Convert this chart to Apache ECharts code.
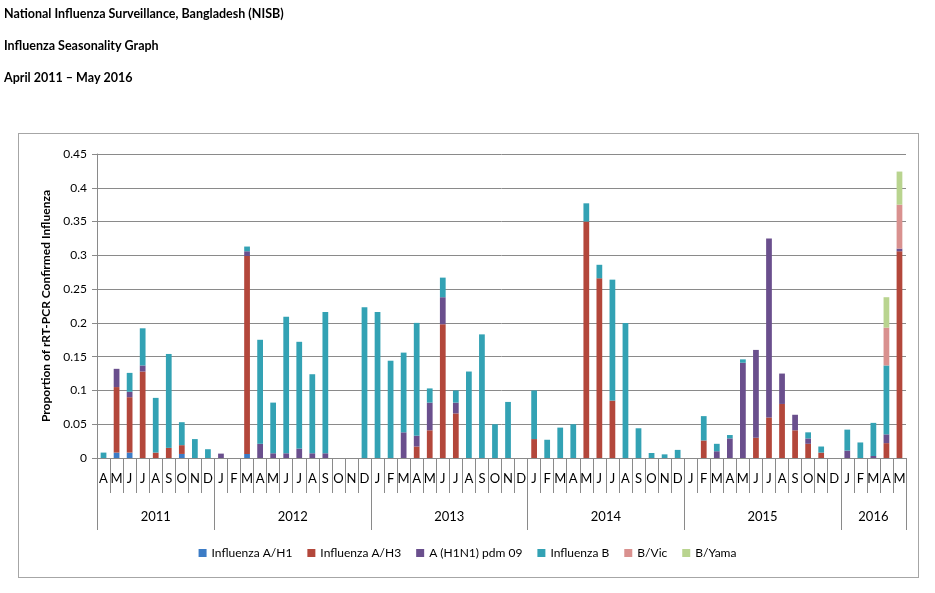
<!DOCTYPE html>
<html>
<head>
<meta charset="utf-8">
<script src="https://cdn.jsdelivr.net/npm/echarts@6/dist/echarts.min.js"></script>
<style>
  html, body { margin: 0; padding: 0; background: #fff; }
  #frame { position: absolute; left: 18px; top: 133px; width: 899px; height: 443px; border: 1px solid #a6a6a6; }
  #main { position: absolute; left: 0; top: 0; width: 935px; height: 593px; }
</style>
</head>
<body>
<div id="frame"></div>
<div id="main"></div>
<script>
// month letters per year, Apr 2011 - May 2016
const yearLabels = ['2011', '2012', '2013', '2014', '2015', '2016'];
const yearMonths = [
  ['A', 'M', 'J', 'J', 'A', 'S', 'O', 'N', 'D'],
  ['J', 'F', 'M', 'A', 'M', 'J', 'J', 'A', 'S', 'O', 'N', 'D'],
  ['J', 'F', 'M', 'A', 'M', 'J', 'J', 'A', 'S', 'O', 'N', 'D'],
  ['J', 'F', 'M', 'A', 'M', 'J', 'J', 'A', 'S', 'O', 'N', 'D'],
  ['J', 'F', 'M', 'A', 'M', 'J', 'J', 'A', 'S', 'O', 'N', 'D'],
  ['J', 'F', 'M', 'A', 'M']
];

// proportions, one value per month
const fluAH1 = [
  0, 0.008, 0.008, 0, 0, 0, 0.006, 0, 0,
  0, 0, 0.006, 0, 0, 0, 0, 0, 0, 0, 0, 0,
  0, 0, 0, 0, 0, 0, 0, 0, 0, 0, 0, 0,
  0, 0, 0, 0, 0, 0, 0, 0, 0, 0, 0, 0,
  0, 0, 0, 0, 0, 0, 0, 0, 0, 0, 0, 0,
  0, 0, 0, 0, 0
];
const fluAH3 = [
  0, 0.097, 0.082, 0.128, 0.008, 0.015, 0.013, 0, 0,
  0, 0, 0.293, 0, 0, 0, 0, 0, 0, 0, 0, 0,
  0, 0, 0, 0.017, 0.041, 0.198, 0.066, 0, 0, 0, 0, 0,
  0.028, 0, 0, 0, 0.350, 0.266, 0.085, 0, 0, 0, 0, 0,
  0, 0.026, 0, 0, 0, 0.030, 0.060, 0.080, 0.041, 0.021, 0.008, 0,
  0, 0, 0, 0.022, 0.306
];
const pdm09 = [
  0, 0.027, 0.008, 0.009, 0, 0, 0, 0, 0,
  0.0065, 0, 0.007, 0.021, 0.007, 0.007, 0.014, 0.007, 0.007, 0, 0, 0,
  0, 0, 0.038, 0.016, 0.041, 0.040, 0.016, 0, 0, 0, 0, 0,
  0, 0, 0, 0, 0, 0, 0, 0, 0, 0, 0, 0,
  0, 0, 0.010, 0.029, 0.141, 0.130, 0.265, 0.045, 0.023, 0.008, 0, 0,
  0.011, 0, 0.003, 0.013, 0.004
];
const fluB = [
  0.008, 0, 0.028, 0.055, 0.081, 0.139, 0.034, 0.028, 0.013,
  0, 0, 0.007, 0.154, 0.075, 0.202, 0.158, 0.117, 0.209, 0, 0, 0.223,
  0.216, 0.144, 0.118, 0.167, 0.021, 0.029, 0.018, 0.128, 0.183, 0.050, 0.083, 0,
  0.072, 0.027, 0.045, 0.050, 0.027, 0.020, 0.179, 0.200, 0.044, 0.0074, 0.0054, 0.012,
  0, 0.036, 0.011, 0.005, 0.005, 0, 0, 0, 0, 0.009, 0.009, 0,
  0.031, 0.023, 0.049, 0.102, 0
];
const bVic = [
  0, 0, 0, 0, 0, 0, 0, 0, 0,
  0, 0, 0, 0, 0, 0, 0, 0, 0, 0, 0, 0,
  0, 0, 0, 0, 0, 0, 0, 0, 0, 0, 0, 0,
  0, 0, 0, 0, 0, 0, 0, 0, 0, 0, 0, 0,
  0, 0, 0, 0, 0, 0, 0, 0, 0, 0, 0, 0,
  0, 0, 0, 0.056, 0.065
];
const bYama = [
  0, 0, 0, 0, 0, 0, 0, 0, 0,
  0, 0, 0, 0, 0, 0, 0, 0, 0, 0, 0, 0,
  0, 0, 0, 0, 0, 0, 0, 0, 0, 0, 0, 0,
  0, 0, 0, 0, 0, 0, 0, 0, 0, 0, 0, 0,
  0, 0, 0, 0, 0, 0, 0, 0, 0, 0, 0, 0,
  0, 0, 0, 0.045, 0.049
];

const seriesNames = ['Influenza A/H1', 'Influenza A/H3', 'A (H1N1) pdm 09', 'Influenza B', 'B/Vic', 'B/Yama'];
const seriesData = [fluAH1, fluAH3, pdm09, fluB, bVic, bYama];
const colors = ['#3c7cc6', '#b3473b', '#6a4f8d', '#33a2b4', '#d9918f', '#b9d48f'];

// month categories and year boundaries
const months = [];
const yearStarts = [];
const yearMids = [];
yearMonths.forEach(function (list) {
  yearStarts.push(months.length);
  yearMids.push(months.length + list.length / 2);
  list.forEach(function (m) { months.push(m); });
});
yearStarts.push(months.length);

const font = 'Lato, "Open Sans", sans-serif';
const grey = '#8a8a8a';

const myChart = echarts.init(document.getElementById('main'), null, { renderer: 'canvas' });

const option = {
  backgroundColor: 'transparent',
  color: colors,
  animation: false,
  title: [
    { text: 'National Influenza Surveillance, Bangladesh (NISB)', left: 4, top: 7 },
    { text: 'Influenza Seasonality Graph', left: 4, top: 39 },
    { text: 'April 2011 \u2013 May 2016', left: 4, top: 71 }
  ].map(function (t) {
    t.padding = 0;
    t.textStyle = { fontFamily: font, fontSize: 12.5, fontWeight: 'bold', color: '#000' };
    return t;
  }),
  legend: {
    bottom: 29,
    left: 'center',
    itemWidth: 8,
    itemHeight: 8,
    itemGap: 15,
    icon: 'rect',
    textStyle: { fontFamily: font, fontSize: 12, color: '#000' },
    data: seriesNames
  },
  grid: { left: 97, right: 29, top: 154, bottom: 135, containLabel: false },
  xAxis: [
    {
      type: 'category',
      data: months,
      axisLine: { lineStyle: { color: grey } },
      axisTick: { show: true, length: 35, interval: 0, lineStyle: { color: grey } },
      axisLabel: { interval: 0, margin: 14, fontFamily: font, fontSize: 13, color: '#000' },
      splitLine: { show: false }
    },
    {
      type: 'value',
      position: 'bottom',
      min: 0,
      max: months.length,
      axisLine: { show: false },
      axisTick: { show: true, length: 72, customValues: yearStarts, lineStyle: { color: grey } },
      axisLabel: {
        customValues: yearMids,
        margin: 52,
        fontFamily: font,
        fontSize: 13,
        color: '#000',
        formatter: function (v) { return yearLabels[yearMids.indexOf(v)]; }
      },
      splitLine: { show: false }
    }
  ],
  yAxis: {
    type: 'value',
    min: 0,
    max: 0.45,
    interval: 0.05,
    name: 'Proportion of rRT-PCR Confirmed Influenza',
    nameLocation: 'middle',
    nameGap: 44,
    nameTextStyle: { fontFamily: font, fontSize: 12, fontWeight: 'bold', color: '#000' },
    axisLine: { show: true, lineStyle: { color: grey } },
    axisTick: { show: true, length: 5, lineStyle: { color: grey } },
    axisLabel: { margin: 10, fontFamily: font, fontSize: 12, color: '#000' },
    splitLine: { lineStyle: { color: grey } }
  },
  series: seriesNames.map(function (name, i) {
    return {
      name: name,
      type: 'bar',
      stack: 'flu',
      barWidth: '44%',
      data: seriesData[i]
    };
  })
};

myChart.setOption(option);
</script>
</body>
</html>
